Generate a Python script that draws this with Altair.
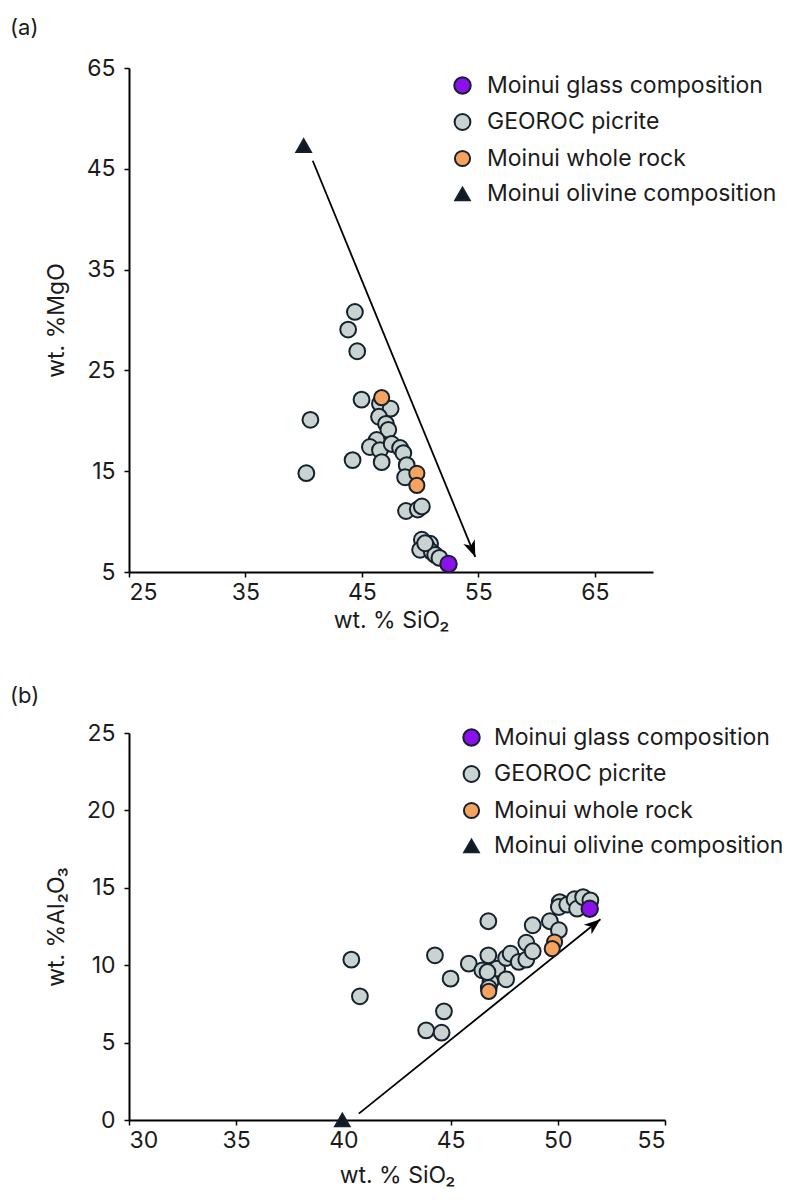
import math
import altair as alt
import pandas as pd

FONT = "Inter"
INK = "#1b1b1b"
EDGE = "#15212c"

CATS = ["Moinui glass composition", "GEOROC picrite", "Moinui whole rock",
        "Moinui olivine composition"]
FILLS = ["#8b10ec", "#c9d4d2", "#f6a35f", "#0f1a26"]
STROKES = [EDGE, EDGE, EDGE, EDGE]
SHAPES = ["circle", "circle", "circle", "triangle-up"]
SIZES = [270, 210, 210, 220]

# ---------------- Panel (a): MgO vs SiO2 ----------------
A_PICRITE_SIO2 = [44.40, 43.82, 44.60, 44.97, 46.55, 47.47, 40.58, 46.47, 47.07,
                  47.27, 46.27, 45.69, 46.55, 47.56, 48.28, 48.56, 44.20, 46.70,
                  48.85, 40.23, 48.71, 48.79, 49.80, 50.15, 50.15, 50.86, 50.58,
                  50.00, 51.00, 51.29, 51.66, 50.43]
A_PICRITE_MGO = [30.8, 29.05, 26.9, 22.1, 21.7, 21.2, 20.1, 20.4, 19.7,
                 19.1, 18.1, 17.4, 17.1, 17.7, 17.3, 16.8, 16.1, 15.9,
                 15.6, 14.8, 14.4, 11.05, 11.2, 11.5, 8.2, 7.8, 7.5,
                 7.2, 7.0, 6.7, 6.4, 7.85]
A_ROCK_SIO2 = [46.70, 49.72, 49.72]
A_ROCK_MGO = [22.3, 14.8, 13.6]
A_GLASS_SIO2 = [52.44]
A_GLASS_MGO = [5.8]
A_OLIVINE_SIO2 = [40.0]
A_OLIVINE_MGO = [47.3]
A_ARROW = [40.78, 45.8, 54.74, 6.5]   # start x, start y, end x, end y

A_XDOM = [25, 70]
A_YDOM = [5, 55]
A_XTICKS = [25, 35, 45, 55, 65]
A_YTICKS = [5, 15, 25, 35, 45, 55]

# ---------------- Panel (b): Al2O3 vs SiO2 ----------------
B_PICRITE_SIO2 = [40.37, 40.77, 44.27, 45.00, 44.69, 43.86, 44.58, 45.85, 46.48,
                  46.76, 46.76, 47.17, 46.86, 46.78, 47.59, 47.80, 47.59, 48.18,
                  48.53, 48.53, 48.83, 48.83, 49.63, 50.05, 50.09, 50.05, 50.44,
                  50.78, 50.90, 51.18, 51.52, 46.72]
B_PICRITE_AL = [10.36, 7.99, 10.64, 9.13, 7.02, 5.79, 5.64, 10.1, 9.67,
                10.64, 12.84, 9.78, 8.91, 8.53, 10.47, 10.74, 9.09, 10.21,
                10.36, 11.45, 10.9, 12.58, 12.84, 12.26, 14.08, 13.76, 13.91,
                14.26, 13.65, 14.4, 14.19, 9.56]
B_ROCK_SIO2 = [46.78, 49.85, 49.74]
B_ROCK_AL = [8.31, 11.5, 11.07]
B_GLASS_SIO2 = [51.49]
B_GLASS_AL = [13.65]
B_OLIVINE_SIO2 = [39.95]
B_OLIVINE_AL = [0.0]
B_ARROW = [40.72, 0.41, 51.99, 12.97]

B_XDOM = [30, 55]
B_YDOM = [0, 25]
B_XTICKS = [30, 35, 40, 45, 50, 55]
B_YTICKS = [0, 5, 10, 15, 20, 25]

ARROW_HEAD = "M0,0 L0.75,2 L0,1.45 L-0.75,2 Z"


def points_df(picx, picy, rockx, rocky, glx, gly, olx, oly):
    rows = []
    for cat, xs, ys in [(CATS[1], picx, picy), (CATS[2], rockx, rocky),
                        (CATS[0], glx, gly), (CATS[3], olx, oly)]:
        for x, y in zip(xs, ys):
            rows.append({"x": x, "y": y, "cat": cat})
    return pd.DataFrame(rows)


def head_angle(arrow, W, H, xdom, ydom):
    kx = W / (xdom[1] - xdom[0])
    ky = H / (ydom[1] - ydom[0])
    dx = (arrow[2] - arrow[0]) * kx
    dy = -(arrow[3] - arrow[1]) * ky
    return math.degrees(math.atan2(dx, -dy)) % 360


def panel(df, arrow, label, xdom, ydom, xticks, yticks, W, H, xtitle, ytitle,
          leg_x, leg_y, label_offset, label_y, x_title_pad, ylabel_expr=None):
    xs = alt.Scale(domain=xdom, nice=False, zero=False)
    ys = alt.Scale(domain=ydom, nice=False, zero=False)
    xaxis = alt.Axis(values=xticks, title=xtitle, grid=False, labelPadding=4,
                     titlePadding=x_title_pad)
    ykw = dict(values=yticks, title=ytitle, grid=False, labelPadding=9,
               titlePadding=18)
    if ylabel_expr:
        ykw["labelExpr"] = ylabel_expr
    yaxis = alt.Axis(**ykw)

    adf = pd.DataFrame([{"x": arrow[0], "y": arrow[1], "xe": arrow[2], "ye": arrow[3]}])
    ang = head_angle(arrow, W, H, xdom, ydom)

    rule = alt.Chart(adf).mark_rule(color="black", strokeWidth=1.8).encode(
        x=alt.X("x:Q", scale=xs, axis=xaxis),
        y=alt.Y("y:Q", scale=ys, axis=yaxis),
        x2="xe:Q", y2="ye:Q")
    head = alt.Chart(adf).mark_point(shape=ARROW_HEAD, angle=ang, filled=True,
                                     fill="black", strokeWidth=0, size=270,
                                     opacity=1).encode(
        x=alt.X("xe:Q", scale=xs, axis=xaxis),
        y=alt.Y("ye:Q", scale=ys, axis=yaxis))

    legend = alt.Legend(title=None, orient="none", legendX=leg_x, legendY=leg_y,
                        labelFont=FONT, labelFontSize=23, labelColor=INK,
                        labelLimit=600, labelOffset=label_offset, rowPadding=11.5,
                        symbolStrokeColor=EDGE, symbolStrokeWidth=2, padding=0)
    pts = alt.Chart(df).mark_point(filled=True, opacity=1, strokeWidth=2).encode(
        x=alt.X("x:Q", scale=xs, axis=xaxis),
        y=alt.Y("y:Q", scale=ys, axis=yaxis),
        fill=alt.Fill("cat:N", scale=alt.Scale(domain=CATS, range=FILLS), legend=legend),
        stroke=alt.Stroke("cat:N", scale=alt.Scale(domain=CATS, range=STROKES), legend=legend),
        shape=alt.Shape("cat:N", scale=alt.Scale(domain=CATS, range=SHAPES), legend=legend),
        size=alt.Size("cat:N", scale=alt.Scale(domain=CATS, range=SIZES), legend=legend),
    )
    txt = alt.Chart(pd.DataFrame({"t": [label]})).mark_text(
        align="left", baseline="top", font=FONT, fontSize=22, color=INK).encode(
        x=alt.value(-119), y=alt.value(label_y), text="t:N")
    return alt.layer(rule, head, pts, txt).properties(width=W, height=H)


dfa = points_df(A_PICRITE_SIO2, A_PICRITE_MGO, A_ROCK_SIO2, A_ROCK_MGO,
                A_GLASS_SIO2, A_GLASS_MGO, A_OLIVINE_SIO2, A_OLIVINE_MGO)
dfb = points_df(B_PICRITE_SIO2, B_PICRITE_AL, B_ROCK_SIO2, B_ROCK_AL,
                B_GLASS_SIO2, B_GLASS_AL, B_OLIVINE_SIO2, B_OLIVINE_AL)

pa = panel(dfa, A_ARROW, "(a)", A_XDOM, A_YDOM, A_XTICKS, A_YTICKS, 524, 504,
           "wt. % SiO₂", "wt. %MgO", 322, 6, 13, -50, 5,
           ylabel_expr="datum.value == 55 ? '65' : datum.label")
pb = panel(dfb, B_ARROW, "(b)", B_XDOM, B_YDOM, B_XTICKS, B_YTICKS, 536, 387,
           "wt. % SiO₂", "wt. %Al₂O₃", 331, -7, 11, -47, 12)

chart = alt.vconcat(pa, pb, spacing=53).resolve_scale(
    fill="independent", stroke="independent", shape="independent",
    size="independent", x="independent", y="independent",
).resolve_legend(
    fill="independent", stroke="independent", shape="independent",
    size="independent",
).properties(
    padding={"left": 2, "top": 9, "right": 2, "bottom": 2},
    background="white",
).configure_view(stroke=None).configure_axis(
    domainColor="black", domainWidth=2, tickColor="black", tickWidth=1.5,
    tickSize=5, labelFont=FONT, labelFontSize=23, labelColor=INK,
    titleFont=FONT, titleFontSize=23, titleFontWeight="normal", titleColor=INK,
)

chart.save("out.html", embed_options={"renderer": "svg", "actions": False})
